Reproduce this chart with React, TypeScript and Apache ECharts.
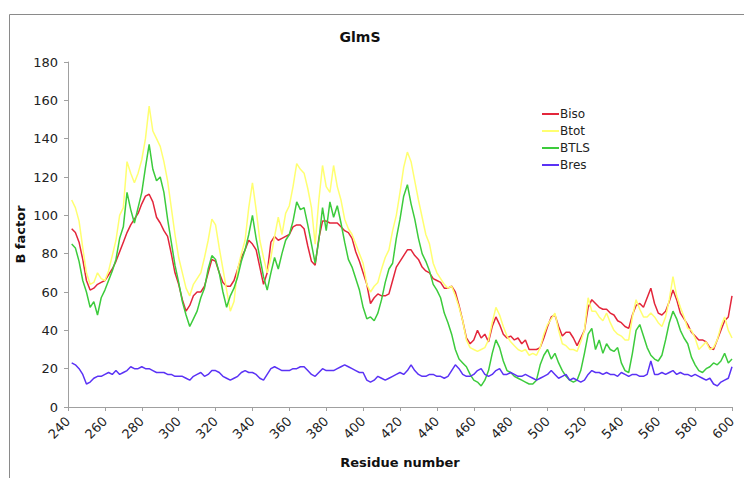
import React, { useEffect, useRef } from "react";
import * as echarts from "echarts";

// Residues 242..600, every 2nd residue
const residueStart = 242;
const residueStep = 2;

const biso = [
  93, 91, 86, 77, 66, 61, 62, 64, 65, 66,
  69, 72, 76, 81, 86, 91, 95, 98, 101, 106,
  110, 111, 107, 99, 96, 92, 89, 80, 70, 64,
  56, 50, 53, 58, 60, 60, 63, 70, 77, 76,
  70, 65, 63, 63, 66, 72, 78, 82, 87, 85,
  82, 73, 64, 70, 86, 89, 87, 88, 89, 90,
  94, 95, 95, 93, 84, 76, 74, 88, 97, 97,
  96, 96, 96, 94, 92, 91, 88, 81, 76, 70,
  64, 54, 57, 59, 58, 58, 59, 66, 73, 76,
  79, 82, 82, 79, 77, 73, 71, 70, 67, 66,
  65, 62, 62, 63, 60, 53, 45, 36, 33, 35,
  40, 36, 38, 34, 42, 47, 43, 38, 36, 37,
  35, 36, 33, 35, 30, 30, 30, 31, 36, 42,
  47, 48, 42, 37, 39, 39, 36, 32, 36, 40,
  52, 56, 54, 52, 51, 51, 49, 48, 45, 44,
  42, 41, 48, 53, 54, 52, 57, 62, 54, 49,
  48, 50, 55, 61, 56, 49, 46, 43, 39, 37,
  35, 35, 34, 31, 30, 35, 40, 45, 47, 58,
];

const btot = [
  108, 104, 97, 83, 70, 64, 65, 70, 67, 66,
  71, 79, 87, 100, 104, 128, 122, 117, 122, 129,
  140, 157, 144, 140, 136, 128, 118, 104, 90, 78,
  70, 62, 58, 64, 67, 70, 78, 87, 98, 95,
  83, 72, 61, 50, 55, 72, 80, 87, 104, 117,
  103, 87, 78, 70, 78, 89, 99, 90, 101, 105,
  115, 127, 124, 122, 114, 104, 85, 108, 126, 115,
  112, 126, 115, 108, 98, 93, 90, 85, 80, 75,
  64, 60, 63, 65, 72, 78, 82, 92, 100, 112,
  125, 133, 128, 118, 108, 99, 90, 85, 75, 70,
  67, 64, 62, 63, 58, 52, 45, 35, 31, 30,
  29, 30, 31, 35, 44, 52, 48, 42, 37, 34,
  32, 30, 29, 30, 27, 28, 27, 31, 38, 43,
  46, 49, 40, 33, 32, 30, 30, 29, 34, 40,
  57, 50, 50, 47, 45, 49, 44, 40, 38, 37,
  35, 35, 47, 56, 51, 47, 47, 49, 47, 44,
  42, 47, 56, 68, 58, 52, 47, 41, 40, 36,
  30, 32, 34, 30, 31, 35, 42, 47, 40, 36,
];

const btls = [
  85, 83, 76, 66, 60, 52, 55, 48, 57, 61,
  66, 71, 77, 88, 94, 112, 103, 96, 104, 112,
  125, 137, 124, 118, 120, 112, 98, 86, 74, 65,
  55, 48, 42, 46, 50, 57, 62, 72, 79, 77,
  70, 60, 52, 58, 62, 68, 76, 82, 90, 100,
  88, 78, 68, 61, 70, 78, 72, 80, 87, 90,
  97, 107, 103, 104, 95, 85, 75, 87, 104, 92,
  107, 99, 105, 96, 86, 77, 73, 67, 61, 52,
  46, 47, 45, 49, 56, 65, 72, 75, 88, 98,
  110, 116, 106, 98, 88, 80, 76, 71, 64, 61,
  57, 49, 44, 38, 30, 25, 23, 21, 17, 14,
  13, 11, 14, 19, 28, 35, 31, 24, 19, 18,
  16, 15, 14, 13, 12, 12, 14, 22, 27, 30,
  25, 28, 23, 19, 16, 14, 13, 14, 19, 28,
  38, 41, 30, 35, 28, 33, 30, 29, 31, 23,
  19, 18, 28, 40, 43, 37, 31, 27, 25, 24,
  27, 35, 44, 50, 46, 40, 36, 33, 26, 22,
  19, 18, 20, 21, 23, 22, 24, 28, 23, 25,
];

const bres = [
  23, 22, 20, 17, 12, 13, 15, 16, 16, 17,
  18, 17, 19, 17, 18, 19, 21, 20, 20, 21,
  20, 20, 19, 18, 18, 18, 17, 17, 16, 16,
  16, 15, 14, 16, 17, 18, 16, 17, 19, 19,
  18, 16, 15, 14, 15, 16, 18, 19, 18, 18,
  17, 15, 14, 17, 20, 21, 20, 19, 19, 19,
  20, 20, 21, 21, 19, 17, 16, 18, 20, 19,
  19, 19, 20, 21, 22, 21, 20, 19, 18, 18,
  14, 13, 14, 16, 15, 14, 15, 16, 17, 18,
  17, 19, 22, 19, 17, 16, 16, 17, 17, 16,
  16, 15, 16, 19, 22, 20, 17, 16, 16, 17,
  19, 20, 17, 16, 17, 19, 20, 17, 17, 18,
  17, 16, 16, 17, 16, 15, 14, 15, 16, 17,
  19, 17, 15, 16, 17, 14, 15, 14, 13, 14,
  17, 19, 18, 18, 17, 18, 17, 17, 16, 18,
  17, 16, 17, 17, 16, 16, 17, 24, 17, 17,
  18, 17, 18, 19, 17, 18, 17, 17, 16, 17,
  16, 15, 14, 15, 12, 11, 13, 14, 15, 21,
];

const seriesNames = ["Biso", "Btot", "BTLS", "Bres"];
const seriesColors = ["#e3263b", "#ffff70", "#3ccb3c", "#5a32f5"];
const xMin = 240;
const xMax = 600;
const xInterval = 20;
const yMin = 0;
const yMax = 180;
const yInterval = 20;

const FONT = '"DejaVu Sans", Verdana, sans-serif';

function toPairs(vals: number[]) {
  return vals.map((v, i) => [residueStart + i * residueStep, v]);
}

export default function App() {
  const ref = useRef<HTMLDivElement>(null);
  useEffect(() => {
    document.body.style.margin = "0";
    if (!ref.current) return;
    const chart = echarts.init(ref.current, null, { renderer: "svg" });
    const allData = [biso, btot, btls, bres];
    chart.setOption({
      animation: false,
      backgroundColor: "#ffffff",
      grid: { left: 68, right: 12, top: 62, bottom: 71 },
      graphic: [
        {
          type: "rect",
          silent: true,
          z: -10,
          shape: { x: 9.5, y: 14.5, width: 900, height: 700 },
          style: { fill: "none", stroke: "#8a8a8a", lineWidth: 1 },
        },
        {
          type: "text",
          x: 360,
          y: 37,
          style: {
            text: "GlmS",
            textAlign: "center",
            textVerticalAlign: "middle",
            fontFamily: FONT,
            fontWeight: "bold",
            fontSize: 14,
            fill: "#111",
          },
        },
      ],
      legend: {
        orient: "vertical",
        left: 537,
        top: 103,
        itemWidth: 17,
        itemHeight: 12,
        itemGap: 5,
        icon: "path://M0,5 L17,5 L17,7 L0,7 Z",
        textStyle: { fontFamily: FONT, fontSize: 12, color: "#222", padding: [0, 0, 0, -4] },
        data: seriesNames,
      },
      xAxis: {
        type: "value",
        min: xMin,
        max: xMax,
        interval: xInterval,
        name: "Residue number",
        nameLocation: "middle",
        nameGap: 49,
        nameTextStyle: { fontFamily: FONT, fontWeight: "bold", fontSize: 13, color: "#111" },
        axisLine: { lineStyle: { color: "#a0a0a0" } },
        axisTick: { show: true, length: 4, lineStyle: { color: "#a0a0a0" } },
        axisLabel: { rotate: 45, fontFamily: FONT, fontSize: 13, color: "#222", margin: 12 },
        splitLine: { show: false },
      },
      yAxis: {
        type: "value",
        min: yMin,
        max: yMax,
        interval: yInterval,
        name: "B factor",
        nameLocation: "middle",
        nameGap: 41,
        nameMoveOverlap: false,
        nameTextStyle: { fontFamily: FONT, fontWeight: "bold", fontSize: 13, color: "#111" },
        axisLine: { show: true, lineStyle: { color: "#a0a0a0" } },
        axisTick: { show: true, length: 4, lineStyle: { color: "#a0a0a0" } },
        axisLabel: { fontFamily: FONT, fontSize: 13, color: "#222", margin: 10 },
        splitLine: { show: false },
      },
      series: seriesNames.map((name, i) => ({
        name,
        type: "line",
        data: toPairs(allData[i]),
        symbol: "none",
        showSymbol: false,
        color: seriesColors[i],
        lineStyle: { width: 1.5, color: seriesColors[i] },
      })),
    });
    return () => chart.dispose();
  }, []);
  return <div ref={ref} style={{ width: 744, height: 478 }} />;
}
